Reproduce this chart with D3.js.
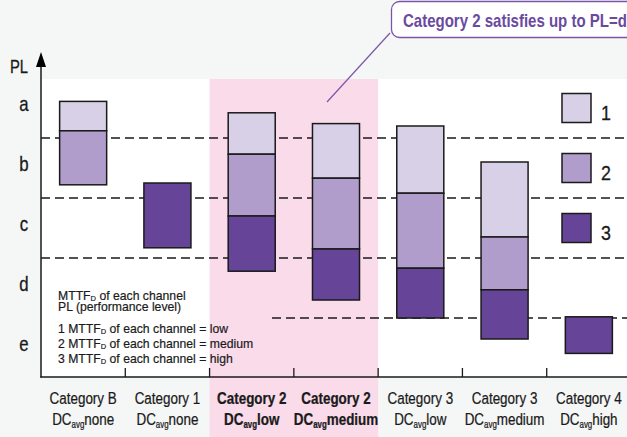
<!DOCTYPE html>
<html>
<head>
<meta charset="utf-8">
<script src="https://cdn.jsdelivr.net/npm/d3@7"></script>
<style>
  html, body { margin: 0; padding: 0; background: #f5f7f6; }
  svg { display: block; }
  text { font-family: "Liberation Sans", Arial, Helvetica, sans-serif; }
</style>
</head>
<body>
<svg id="chart" width="627" height="437"></svg>
<script>
// ---------------- DATA ----------------
const catLine1 = ["Category B", "Category 1", "Category 2", "Category 2", "Category 3", "Category 3", "Category 4"];
const catLine2 = ["none", "none", "low", "medium", "low", "medium", "high"];
const highlighted = [false, false, true, true, false, false, false];

const plLevels = ["a", "b", "c", "d", "e"];          // top to bottom
const plBoundaries = [1, 2, 3, 4];                    // dashed separators

// PL ranges [bottom, top] in level units (e=0..1, d=1..2, ... a=4..5)
const seriesLow    = [[4.12, 4.61], null, [3.73, 4.42], [3.33, 4.24], [3.08, 4.20], [2.35, 3.60], null];
const seriesMedium = [[3.22, 4.12], null, [2.70, 3.73], [2.15, 3.33], [1.83, 3.08], [1.47, 2.35], null];
const seriesHigh   = [null, [2.17, 3.25], [1.78, 2.70], [1.30, 2.15], [1.00, 1.83], [0.65, 1.47], [0.41, 1.02]];

const legendLabels = ["1", "2", "3"];
const noteLines = [
  ["MTTF", "D", " of each channel"],
  ["PL (performance level)", "", ""],
  ["1 MTTF", "D", " of each channel = low"],
  ["2 MTTF", "D", " of each channel = medium"],
  ["3 MTTF", "D", " of each channel = high"]
];
const calloutText = "Category 2 satisfies up to PL=d";

// ---------------- LAYOUT ----------------
const W = 627, H = 437;
const left = 41, plotTop = 79, plotBottom = 377;
const colors = ["#d8d0e7", "#b09dcb", "#664497"];
const ink = "#1a1a1a";

const svg = d3.select("#chart");
const x = d3.scaleBand().domain(d3.range(catLine1.length)).range([left, 631])
  .paddingInner(0.442).paddingOuter(0.221);
const step = x.step();
const y = d3.scaleLinear().domain([0, 5]).range([378, 78]);

// background
svg.append("rect").attr("width", W).attr("height", H).attr("fill", "#f5f7f6");
svg.append("rect").attr("x", left).attr("y", plotTop).attr("width", W - left).attr("height", plotBottom - plotTop).attr("fill", "#ffffff");

// highlight band
const hiIdx = highlighted.map((h, i) => h ? i : -1).filter(i => i >= 0);
const bandX0 = x(hiIdx[0]) + x.bandwidth() / 2 - step / 2;
const bandX1 = x(hiIdx[hiIdx.length - 1]) + x.bandwidth() / 2 + step / 2;
svg.append("rect").attr("x", bandX0).attr("y", plotTop).attr("width", bandX1 - bandX0).attr("height", H - plotTop).attr("fill", "#fadbea");

// dashed lines
svg.append("g").selectAll("line").data(plBoundaries).join("line")
  .attr("x1", d => d === 1 ? 272 : left).attr("x2", W)
  .attr("y1", d => y(d)).attr("y2", d => y(d))
  .attr("stroke", ink).attr("stroke-width", 1.3).attr("stroke-dasharray", "9,5");

// bars
const segs = [];
[seriesLow, seriesMedium, seriesHigh].forEach((s, si) => {
  s.forEach((r, ci) => { if (r) segs.push({ ci, si, lo: r[0], hi: r[1] }); });
});
svg.append("g").selectAll("rect").data(segs).join("rect")
  .attr("x", d => x(d.ci)).attr("width", x.bandwidth())
  .attr("y", d => y(d.hi)).attr("height", d => y(d.lo) - y(d.hi))
  .attr("fill", d => colors[d.si]).attr("stroke", ink).attr("stroke-width", 1.5);

// legend
const lg = svg.append("g");
legendLabels.forEach((l, i) => {
  const cy = y(4.5 - i);
  lg.append("rect").attr("x", 562).attr("y", cy - 14.5).attr("width", 29).attr("height", 29)
    .attr("fill", colors[i]).attr("stroke", ink).attr("stroke-width", 1.5);
  lg.append("text").attr("transform", `translate(601,${cy + 11.5}) scale(0.85,1)`)
    .attr("font-size", 21).attr("fill", ink).attr("stroke", ink).attr("stroke-width", 0.3).text(l);
});

// axes
svg.append("line").attr("x1", left).attr("x2", left).attr("y1", plotBottom + 0.5).attr("y2", 62)
  .attr("stroke", ink).attr("stroke-width", 1.5);
svg.append("path").attr("d", `M${left},52 L${left - 5},67 L${left + 5},67 Z`).attr("fill", "#000");
svg.append("line").attr("x1", left - 0.75).attr("x2", W).attr("y1", plotBottom).attr("y2", plotBottom)
  .attr("stroke", ink).attr("stroke-width", 1.5);
const tickXs = d3.range(catLine1.length - 1).map(i => x(i) + x.bandwidth() / 2 + step / 2);
svg.append("g").selectAll("line").data(tickXs).join("line")
  .attr("x1", d => d).attr("x2", d => d).attr("y1", 368).attr("y2", plotBottom)
  .attr("stroke", ink).attr("stroke-width", 1.3);

// PL label & level letters
svg.append("text").attr("transform", "translate(10,73) scale(0.82,1)").attr("font-size", 18)
  .attr("fill", ink).attr("stroke", ink).attr("stroke-width", 0.3).text("PL");
svg.append("g").selectAll("text").data(plLevels).join("text")
  .attr("transform", (d, i) => `translate(24,${y(4.5 - i) + 2.5}) scale(0.84,1)`)
  .attr("text-anchor", "middle").attr("font-size", 20).attr("fill", ink)
  .attr("stroke", ink).attr("stroke-width", 0.3).text(d => d);

// category labels
catLine1.forEach((c, i) => {
  const cx = x(i) + x.bandwidth() / 2;
  const bold = highlighted[i] ? "bold" : "normal";
  svg.append("text").attr("transform", `translate(${cx},404) scale(0.79,1)`)
    .attr("text-anchor", "middle").attr("font-size", 17).attr("font-weight", bold)
    .attr("fill", ink).attr("stroke", ink).attr("stroke-width", 0.25).text(c);
  const t = svg.append("text").attr("transform", `translate(${cx},424.5) scale(0.79,1)`)
    .attr("text-anchor", "middle").attr("font-size", 17).attr("font-weight", bold)
    .attr("fill", ink).attr("stroke", ink).attr("stroke-width", 0.25);
  t.append("tspan").text("DC");
  t.append("tspan").attr("font-size", 10).attr("dy", 3).text("avg");
  t.append("tspan").attr("dy", -3).text(catLine2[i]);
});

// notes
const noteY = [300, 311, 332.5, 347.5, 362.5];
noteLines.forEach((ln, i) => {
  const t = svg.append("text").attr("transform", `translate(58,${noteY[i]}) scale(0.94,1)`)
    .attr("font-size", 13).attr("fill", ink).attr("stroke", ink).attr("stroke-width", 0.2);
  t.append("tspan").text(ln[0]);
  if (ln[1]) {
    t.append("tspan").attr("font-size", 8).attr("dy", 1).text(ln[1]);
    t.append("tspan").attr("dy", -1).text(ln[2]);
  }
});

// callout
const purple = "#7a56a8";
svg.append("line").attr("x1", 390).attr("y1", 33).attr("x2", 327).attr("y2", 102)
  .attr("stroke", purple).attr("stroke-width", 1.2);
svg.append("rect").attr("x", 391.5).attr("y", 1.5).attr("width", 300).attr("height", 36).attr("rx", 8)
  .attr("fill", "#ffffff").attr("stroke", purple).attr("stroke-width", 1.3);
svg.append("text").attr("transform", "translate(403,27) scale(0.834,1)")
  .attr("font-size", 18).attr("font-weight", "bold").attr("fill", "#6a4a9f").text(calloutText);
</script>
</body>
</html>
